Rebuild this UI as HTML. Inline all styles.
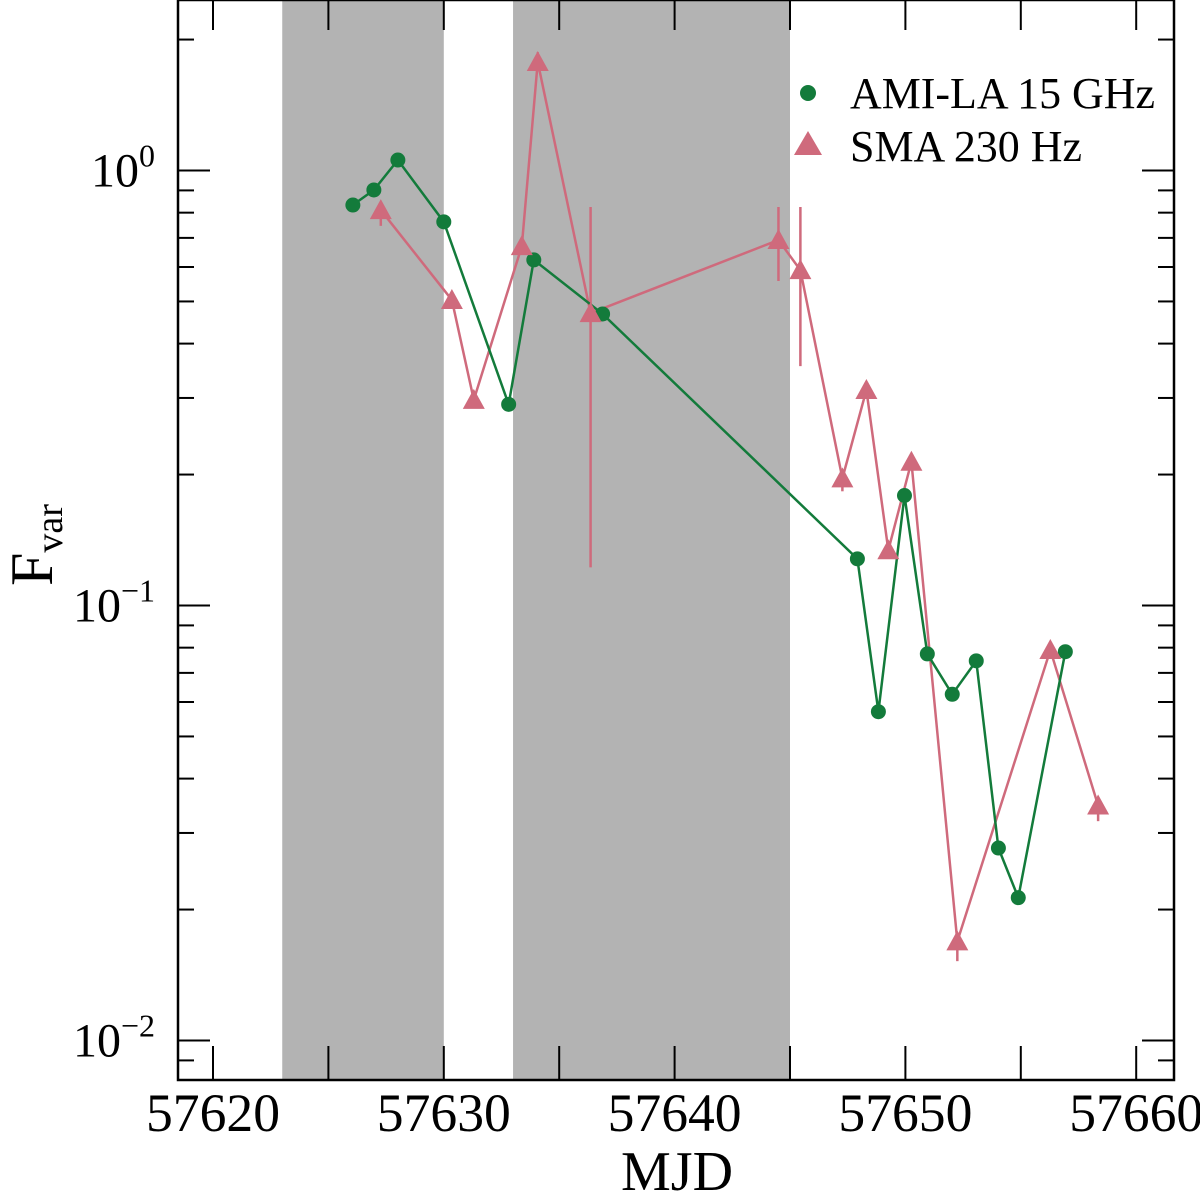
<!DOCTYPE html>
<html><head><meta charset="utf-8"><style>
html,body{margin:0;padding:0;background:#fff;}
svg{display:block;font-family:"Liberation Serif",serif;}
</style></head><body>
<svg id="chart" width="1200" height="1195" viewBox="0 0 1200 1195" xmlns="http://www.w3.org/2000/svg">
<g id="shade"></g>
<g id="ticks"></g>
<g id="series"></g>
<rect x="178" y="0" width="996" height="1080" fill="none" stroke="#000" stroke-width="2.5"/>
<g>
<circle cx="808" cy="93" r="8" fill="#137b3b"/>
<text x="850" y="108" font-size="44" textLength="305" lengthAdjust="spacingAndGlyphs">AMI-LA 15 GHz</text>
<polygon points="808,131 822,155 794,155" fill="#cf6a7c"/>
<text x="850" y="161" font-size="44" textLength="232" lengthAdjust="spacingAndGlyphs">SMA 230 Hz</text>
</g>
<text x="677" y="1190" font-size="56" text-anchor="middle">MJD</text>
<text transform="translate(52,545) rotate(-90)" font-size="60" text-anchor="middle">F<tspan font-size="38" dy="10">var</tspan></text>
</svg>
<script>
const shadeIntervals=[[57623,57630],[57633,57645]];
const xTicks=[57620,57625,57630,57635,57640,57645,57650,57655,57660];
const xLabels=[57620,57630,57640,57650,57660];
const yDecades=[-2,-1,0];
const amiMJD=[57626.06,57626.97,57628.01,57630.0,57632.81,57633.9,57636.88,57647.92,57648.83,57649.96,57650.95,57652.03,57653.07,57654.03,57654.89,57656.93];
const amiF=[0.833,0.902,1.057,0.762,0.290,0.623,0.468,0.128,0.057,0.179,0.0774,0.0625,0.0746,0.0277,0.0213,0.0783];
const smaMJD=[57627.27,57630.35,57631.3,57633.38,57634.07,57636.36,57644.5,57645.45,57647.27,57648.31,57649.26,57650.26,57652.25,57656.28,57658.35];
const smaF=[0.811,0.504,0.297,0.67,1.776,0.47,0.692,0.59,0.196,0.313,0.134,0.214,0.0169,0.079,0.0347];
const smaLo=[0.75,0.50,0.297,0.67,1.70,0.123,0.56,0.357,0.184,0.313,0.134,0.214,0.0153,0.079,0.0321];
const smaHi=[0.811,0.504,0.297,0.67,1.86,0.82,0.82,0.82,0.196,0.313,0.134,0.214,0.0169,0.079,0.0347];

const NS="http://www.w3.org/2000/svg";
const X=d=>213+(d-57620)*23.08;
const Y=v=>170.5-Math.log10(v)*435;
const L=178,R=1174,T=0,B=1080;
function mk(tag,attrs,parent){const e=document.createElementNS(NS,tag);for(const k in attrs)e.setAttribute(k,attrs[k]);document.getElementById(parent).appendChild(e);return e;}
shadeIntervals.forEach(s=>{
 const r=mk('rect',{x:X(s[0]),y:0,width:X(s[1])-X(s[0]),height:B,fill:'#b3b3b3'},'shade');
 
 
});
xTicks.forEach(t=>{
 const x=X(t);
 const a=mk('line',{x1:x,x2:x,y1:B,y2:B-34,stroke:'#000','stroke-width':2},'ticks');
 
 
 const b=mk('line',{x1:x,x2:x,y1:T,y2:T+30,stroke:'#000','stroke-width':2},'ticks');
 
 
});
xLabels.forEach(t=>{
 const tx=mk('text',{x:X(t),y:1131,'font-size':54,'text-anchor':'middle',textLength:134,lengthAdjust:'spacingAndGlyphs'},'ticks');
 tx.textContent=t;
 
 
});
for(let d=-3;d<=0;d++){
 for(let m=1;m<=9;m++){
  const v=m*Math.pow(10,d);const y=Y(v);
  if(y<T||y>B)continue;
  const len=m===1?32:16;
  const a=mk('line',{x1:L,x2:L+len,y1:y,y2:y,stroke:'#000','stroke-width':2},'ticks');
  
  
  const b=mk('line',{x1:R,x2:R-len,y1:y,y2:y,stroke:'#000','stroke-width':2},'ticks');
  
  
 }
}
yDecades.forEach(d=>{
 const tx=mk('text',{x:155,y:Y(Math.pow(10,d))+16,'font-size':48,'text-anchor':'end'},'ticks');
 tx.innerHTML='10<tspan font-size="32" dy="-20">'+(d<0?'\u2212'+(-d):d)+'</tspan>';
 
 
});
smaMJD.forEach((d,i)=>{
 const e=mk('line',{x1:X(d),x2:X(d),y1:Y(smaHi[i])-1,y2:Y(smaLo[i])+1,stroke:'#cf6a7c','stroke-width':2.5},'series');
 
 
});
const sp=mk('polyline',{points:smaMJD.map((d,i)=>X(d)+','+Y(smaF[i])).join(' '),fill:'none',stroke:'#cf6a7c','stroke-width':2.5},'series');


const ap=mk('polyline',{points:amiMJD.map((d,i)=>X(d)+','+Y(amiF[i])).join(' '),fill:'none',stroke:'#137b3b','stroke-width':2.5},'series');


amiMJD.forEach((d,i)=>{
 const c=mk('circle',{cx:X(d),cy:Y(amiF[i]),r:7.5,fill:'#137b3b'},'series');
 
 
});
smaMJD.forEach((d,i)=>{
 const x=X(d),y=Y(smaF[i]);
 const p=mk('polygon',{points:`${x},${y-11} ${x+11},${y+9} ${x-11},${y+9}`,fill:'#cf6a7c'},'series');
 
 
});
</script>
</body></html>
